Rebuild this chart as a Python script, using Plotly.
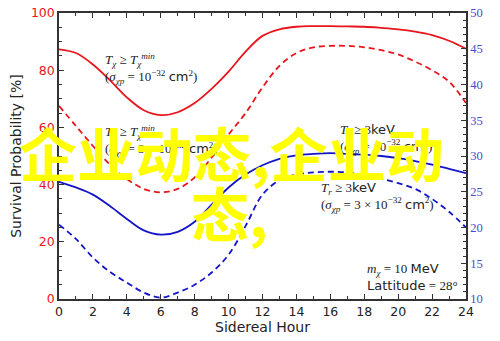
import plotly.graph_objects as go

hours = list(range(0, 25))

# left axis (%) – red curves
red_solid = [87.3, 86.0, 82.0, 76.5, 70.5, 66.0, 64.3, 65.3, 68.5, 73.5, 79.5, 86.5, 92.0,
             94.3, 95.2, 95.4, 95.4, 95.3, 95.2, 94.8, 94.3, 93.5, 92.3, 90.3, 87.5]
red_dashed = [67.5, 60.5, 53.5, 47.0, 42.0, 38.5, 37.3, 38.5, 42.5, 49.5, 57.5, 65.0, 74.0,
              81.5, 86.0, 88.0, 88.5, 88.5, 88.0, 87.0, 85.5, 83.0, 80.0, 76.0, 68.5]
# right axis – blue curves
blue_solid = [26.4, 25.6, 24.6, 23.0, 21.2, 19.6, 19.0, 19.4, 20.8, 23.2, 25.6, 27.4, 28.7,
              29.6, 30.1, 30.3, 30.4, 30.3, 30.2, 30.0, 29.7, 29.3, 28.8, 28.2, 27.6]
blue_dashed = [20.4, 18.4, 15.8, 13.8, 12.3, 10.9, 10.2, 10.9, 12.0, 13.7, 16.2, 20.2, 24.6,
               26.6, 27.4, 27.7, 27.8, 27.7, 27.3, 26.8, 26.2, 25.4, 24.0, 22.2, 20.0]

x_ticks = list(range(0, 25, 2))
left_ticks = [0, 20, 40, 60, 80, 100]
right_ticks = [10, 15, 20, 25, 30, 35, 40, 45, 50]

RED = "#e8151d"
BLUE = "#1515c8"
DASH = "6px,4px"

fig = go.Figure()
fig.add_trace(go.Scatter(x=hours, y=red_solid, mode="lines", line=dict(color=RED, width=1.8, shape="spline"), yaxis="y"))
fig.add_trace(go.Scatter(x=hours, y=red_dashed, mode="lines", line=dict(color=RED, width=1.8, dash=DASH, shape="spline"), yaxis="y"))
fig.add_trace(go.Scatter(x=hours, y=blue_solid, mode="lines", line=dict(color=BLUE, width=1.8, shape="spline"), yaxis="y2"))
fig.add_trace(go.Scatter(x=hours, y=blue_dashed, mode="lines", line=dict(color=BLUE, width=1.8, dash=DASH, shape="spline"), yaxis="y2"))

AX = "#333333"
fig.update_layout(
    width=500, height=341,
    margin=dict(l=59, r=34, t=13, b=42),
    paper_bgcolor="white", plot_bgcolor="white",
    showlegend=False,
    xaxis=dict(range=[0, 24], tickvals=x_ticks, ticks="inside", ticklen=5, tickcolor=AX, automargin=False,
               showline=True, linecolor=AX, linewidth=1.5, mirror="ticks", showgrid=False, zeroline=False,
               minor=dict(ticks="inside", ticklen=3, dtick=1, tickcolor=AX, showgrid=False),
               tickfont=dict(family="DejaVu Sans", size=12.5, color="#222"),
               title=dict(text="Sidereal Hour", font=dict(family="DejaVu Sans", size=14, color="#222"), standoff=4)),
    yaxis=dict(range=[0, 100], tickvals=left_ticks, ticks="inside", ticklen=5, tickcolor=AX, automargin=False,
               showline=True, linecolor=AX, linewidth=1.5, showgrid=False, zeroline=False,
               minor=dict(ticks="inside", ticklen=3, dtick=5, tickcolor=AX, showgrid=False),
               tickfont=dict(family="DejaVu Sans", size=12.5, color=RED),
               title=dict(text="Survival Probability [%]", font=dict(family="DejaVu Sans", size=14, color="#222"), standoff=6)),
    yaxis2=dict(range=[10, 50], tickvals=right_ticks, overlaying="y", side="right", ticks="inside", ticklen=5,
                automargin=False,
                tickcolor=AX, showline=True, linecolor=AX, linewidth=1.5, showgrid=False, zeroline=False,
                minor=dict(ticks="inside", ticklen=3, dtick=1, tickcolor=AX, showgrid=False),
                tickfont=dict(family="Liberation Serif", size=12.5, color="#4a4acc")),
)

SERIF = "Liberation Serif"
def sans(t):
    return '<span style="font-family:DejaVu Sans">' + t + '</span>'

Tchi = "<i>T</i><sub><i>χ</i></sub>"
Tr = "<i>T</i><sub><i>r</i></sub>"
sig = "(<i>σ</i><sub><i>χp</i></sub> = "
ann = [
    (0.108, 0.806, Tchi + " ≥ " + Tchi + "<sup><i>min</i></sup><br>" + sig + "10<sup>−32</sup> " + sans("cm") + "<sup>2</sup>)"),
    (0.108, 0.554, Tchi + " ≥ " + Tchi + "<sup><i>min</i></sup><br>" + sig + "3 × 10<sup>−32</sup> " + sans("cm") + "<sup>2</sup>)"),
    (0.686, 0.558, Tr + " ≥ 3" + sans("keV") + "<br>" + sig + "10<sup>−32</sup> " + sans("cm") + "<sup>2</sup>)"),
    (0.638, 0.357, Tr + " ≥ 3" + sans("keV") + "<br>" + sig + "3 × 10<sup>−32</sup> " + sans("cm") + "<sup>2</sup>)"),
    (0.752, 0.077, "<i>m</i><sub><i>χ</i></sub> = 10 " + sans("MeV") + "<br>" + sans("Lattitude") + " = 28°"),
]
for x, y, t in ann:
    fig.add_annotation(x=x, y=y, xref="paper", yref="paper", text=t, showarrow=False,
                       xanchor="left", yanchor="middle", align="left",
                       font=dict(family=SERIF, size=13, color="#222"))

# watermark
WM = dict(family="Noto Sans CJK SC", size=58, color="#ffff00", weight="bold")
fig.add_annotation(x=0.425, y=0.514, xref="paper", yref="paper", text="企业动态,企业动",
                   showarrow=False, xanchor="center", yanchor="middle", font=WM)
fig.add_annotation(x=0.42, y=0.305, xref="paper", yref="paper", text="态,",
                   showarrow=False, xanchor="center", yanchor="middle", font=WM)

fig.write_html("out.html")
